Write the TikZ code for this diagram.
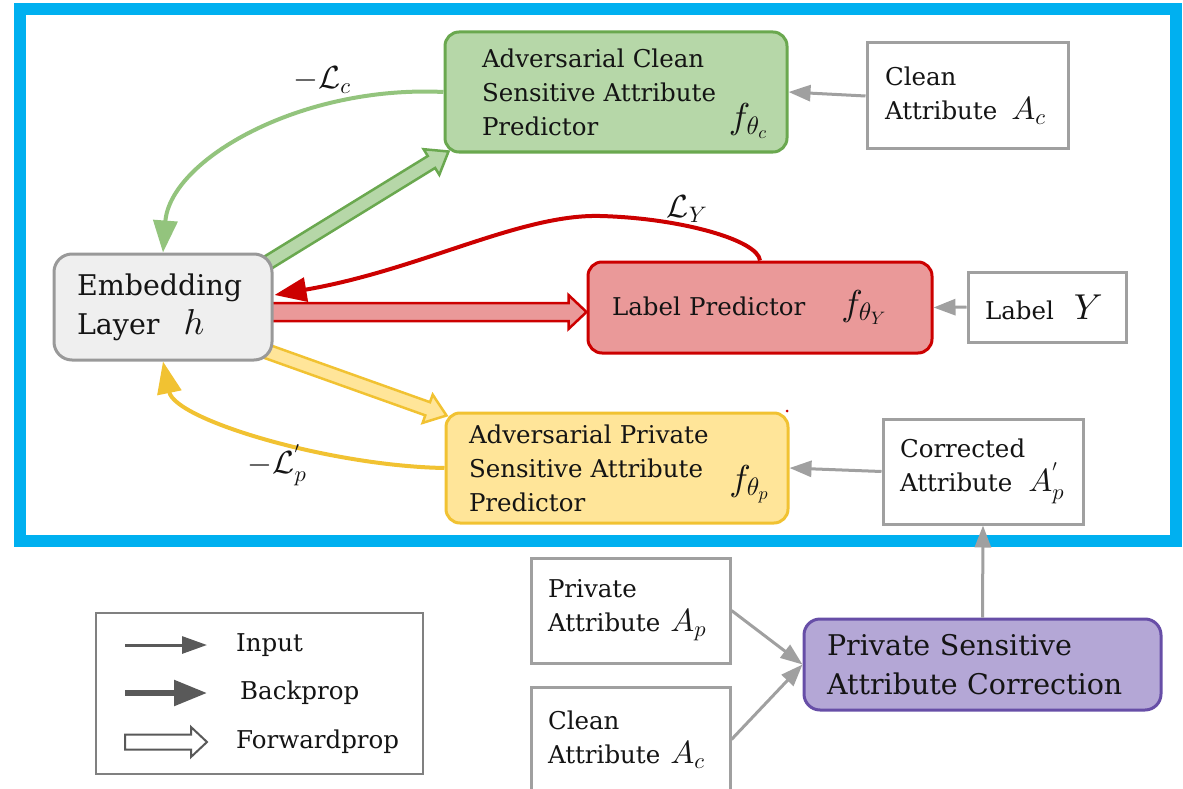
\documentclass[tikz,border=0pt]{standalone}
\usepackage{fontspec}
\setmainfont{DejaVu Serif}
\DeclareFontFamily{OML}{cmm}{\skewchar\font127 }
\DeclareFontShape{OML}{cmm}{m}{it}{<->cmmi10}{}
\DeclareFontFamily{OMS}{cmsy}{\skewchar\font48 }
\DeclareFontShape{OMS}{cmsy}{m}{n}{<->cmsy10}{}
\DeclareFontFamily{OT1}{cmr}{\hyphenchar\font45 }
\DeclareFontShape{OT1}{cmr}{m}{n}{<->cmr10}{}
\usetikzlibrary{arrows.meta,calc}
\pgfdeclarelayer{bg}
\pgfsetlayers{bg,main}
\definecolor{frameblue}{RGB}{0,176,240}
\definecolor{gfill}{RGB}{182,215,168}
\definecolor{gline}{RGB}{106,168,79}
\definecolor{gcurve}{RGB}{147,196,125}
\definecolor{rfill}{RGB}{234,153,153}
\definecolor{rline}{RGB}{204,0,0}
\definecolor{yfill}{RGB}{255,229,153}
\definecolor{yline}{RGB}{241,194,50}
\definecolor{pfill}{RGB}{180,167,214}
\definecolor{pline}{RGB}{103,78,167}
\definecolor{boxgray}{RGB}{160,160,160}
\definecolor{embfill}{RGB}{239,239,239}
\definecolor{embline}{RGB}{153,153,153}
\definecolor{leggray}{RGB}{89,89,89}
\definecolor{legbox}{RGB}{128,128,128}
\definecolor{txt}{RGB}{20,20,20}
\newcommand\smallfont{\fontsize{24.5}{34}\selectfont}
\newcommand\bigfont{\fontsize{28.5}{39}\selectfont}
\newcommand\mbig[2]{{\fontsize{#1}{34}\selectfont$#2$}}
% fat (forwardprop) arrow: from, to, shaft half width, head half width, head length, style
\newcommand{\fatarrow}[6]{%
  \path let \p1=(#1), \p2=(#2) in \pgfextra{%
    \pgfmathsetmacro\fatAa{atan2(\y2-\y1,\x2-\x1)}%
    \pgfmathsetmacro\fatLl{veclen(\x2-\x1,\y2-\y1)}%
    \pgfmathsetmacro\fatBb{\fatLl-#5}%
    \xdef\fatA{\fatAa}\xdef\fatL{\fatLl}\xdef\fatB{\fatBb}%
    \xdef\fatX{\x1}\xdef\fatY{\y1}};
  \draw[#6, shift={(\fatX,\fatY)}, rotate=\fatA]
    (0pt,-#3pt) -- (\fatB pt,-#3pt) -- (\fatB pt,-#4pt) -- (\fatL pt,0pt)
    -- (\fatB pt,#4pt) -- (\fatB pt,#3pt) -- (0pt,#3pt) -- cycle;
}
\begin{document}
\begin{tikzpicture}[x=1pt,y=-1pt,
  basebox/.style={rectangle, inner sep=0pt, align=left, line width=3pt, text=txt},
  advbox/.style={basebox, rounded corners=14pt, font=\smallfont},
  inbox/.style={basebox, draw=boxgray, fill=white, font=\smallfont},
  inarrow/.style={draw=boxgray, line width=3pt, -{Triangle[length=22pt,width=16pt]}},
  backarrow/.style={line width=4pt, -{Triangle[length=32pt,width=24pt]}},
  lbl/.style={font=\smallfont, inner sep=0pt, text=txt},
  fatstyle/.style={line width=2.5pt, line join=miter},
]
\useasboundingbox (0,0) rectangle (1183,789);

% boxes
\node[advbox, draw=gline, fill=gfill, minimum width=342pt, minimum height=120pt, text width=268pt] (green) at (616,92) {Adversarial Clean\\Sensitive Attribute\\Predictor};
\node[lbl] (fc) at (748,121) {\mbig{36}{f_{\theta_c}}};

\node[inbox, minimum width=201pt, minimum height=106pt, text width=165pt] (clean1) at (967.5,96) {Clean\\Attribute\hspace{14pt}\mbig{32}{A_c}};

\node[advbox, draw=rline, fill=rfill, minimum width=344pt, minimum height=91pt, text width=296pt] (red) at (760,307.5) {Label Predictor\hspace{36pt}\mbig{36}{f_{\theta_Y}}};

\node[inbox, minimum width=158pt, minimum height=70pt, text width=124pt] (labelY) at (1047,307) {Label\hspace{20pt}\mbig{36}{Y}};

\node[basebox, rounded corners=18pt, draw=embline, fill=embfill, font=\bigfont, minimum width=218pt, minimum height=106pt, text width=172pt] (emb) at (163,307) {Embedding\\Layer\hspace{24pt}\mbig{36}{h}};

\node[advbox, draw=yline, fill=yfill, minimum width=342pt, minimum height=110pt, text width=296pt] (yellow) at (617,468) {Adversarial Private\\Sensitive Attribute\\Predictor};
\node[lbl] (fp) at (749,484) {\mbig{36}{f_{\theta_p}}};

\node[inbox, minimum width=200pt, minimum height=105pt, text width=166pt] (corr) at (983,471.5) {Corrected\\Attribute\hspace{16pt}\mbig{32}{A_p^{'}}};

\node[basebox, rounded corners=16pt, draw=pline, fill=pfill, font=\bigfont, minimum width=357pt, minimum height=91pt, text width=311pt] (purple) at (982.5,664.5) {Private Sensitive\\Attribute Correction};

\node[inbox, minimum width=199pt, minimum height=105pt, text width=165pt] (priv) at (630.5,610.5) {Private\\Attribute\hspace{10pt}\mbig{32}{A_p}};
\node[inbox, minimum width=199pt, minimum height=105pt, text width=165pt] (clean2) at (630.5,739.5) {Clean\\Attribute\hspace{10pt}\mbig{32}{A_c}};

% legend
\node[rectangle, draw=legbox, line width=2pt, minimum width=327pt, minimum height=161pt] (legend) at (259.5,693.5) {};
\coordinate (i1) at (125,645); \coordinate (i2) at (207,645);
\coordinate (b1) at (125,693); \coordinate (b2) at (207,693);
\coordinate (f1) at (125,742); \coordinate (f2) at (207,742);
\draw[leggray, line width=3pt, -{Triangle[length=25pt,width=17pt]}] (i1) -- (i2);
\draw[leggray, line width=5.5pt, -{Triangle[length=33pt,width=25pt]}] (b1) -- (b2);
\fatarrow{f1}{f2}{7.5}{15}{16}{draw=leggray, fill=white, line width=2pt, line join=miter}
\node[lbl, anchor=west] (tin) at (236,645) {Input};
\node[lbl, anchor=west] (tbp) at (240,693) {Backprop};
\node[lbl, anchor=west] (tfp) at (236,742) {Forwardprop};

% background: frame and forwardprop arrows
\coordinate (gt) at ($(emb.north east)+(-12,14)$);
\coordinate (gh) at ($(green.south west)+(5,-2)$);
\coordinate (rt) at ($(emb.east)+(-12,5)$);
\coordinate (rh) at ($(red.west)+(0,4.5)$);
\coordinate (yt) at ($(emb.south east)+(-12,-12)$);
\coordinate (yh) at ($(yellow.north west)+(2,4)$);
\begin{pgfonlayer}{bg}
\draw[frameblue, line width=12pt] (20,9) rectangle (1176,541);
\fatarrow{gt}{gh}{7}{15}{20}{fatstyle, draw=gline, fill=gfill}
\fatarrow{rt}{rh}{9}{17}{18}{fatstyle, draw=rline, fill=rfill}
\fatarrow{yt}{yh}{7}{15}{20}{fatstyle, draw=yline, fill=yfill}
\end{pgfonlayer}

% input arrows
\draw[inarrow] (clean1.west) -- (green.east);
\draw[inarrow] (labelY.west) -- (red.east);
\draw[inarrow] (corr.west) -- (yellow.east);
\draw[inarrow] (purple.north) -- (corr.south);
\draw[inarrow] (priv.east) -- (purple.west);
\draw[inarrow] (clean2.east) -- (purple.west);

% backprop curves
\coordinate (ypeak) at (600,216);
\draw[backarrow, gcurve] (green.west) .. controls (300,85) and (170,160) .. (emb.north);
\draw[backarrow, yline] (yellow.west) .. controls (330,466) and (175,420) .. (emb.south);
\draw[backarrow, rline] (red.north) .. controls (758,240) and (680,218) .. (ypeak)
   .. controls (520,214) and (420,270) .. ($(emb.east)+(1,-12)$);

% loss labels
\node[lbl] (lc) at (322,80) {\mbig{32}{-\mathcal{L}_c}};
\node[lbl] (ly) at (687,209) {\mbig{32}{\mathcal{L}_Y}};
\node[lbl] (lp) at (277,465) {\mbig{32}{-\mathcal{L}_p^{'}}};

% small red dot
\fill[rline] (787,411) circle (1.5pt);
\end{tikzpicture}
\end{document}
